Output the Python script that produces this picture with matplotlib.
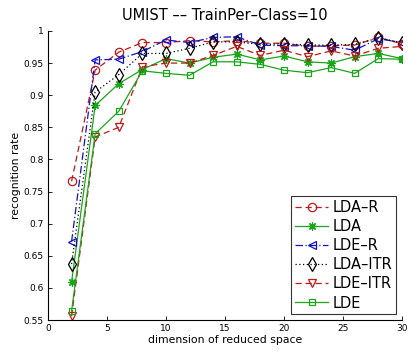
import matplotlib
matplotlib.use("Agg")
import matplotlib.pyplot as plt

dims = [2, 4, 6, 8, 10, 12, 14, 16, 18, 20, 22, 24, 26, 28, 30]
lda_r   = [0.766, 0.939, 0.967, 0.982, 0.982, 0.985, 0.983, 0.985, 0.981, 0.981, 0.976, 0.977, 0.978, 0.990, 0.980]
lda     = [0.609, 0.884, 0.918, 0.940, 0.957, 0.950, 0.959, 0.964, 0.955, 0.961, 0.952, 0.950, 0.960, 0.965, 0.957]
lde_r   = [0.672, 0.955, 0.956, 0.968, 0.986, 0.982, 0.990, 0.991, 0.978, 0.977, 0.977, 0.976, 0.970, 0.988, 0.982]
lda_itr = [0.637, 0.905, 0.932, 0.965, 0.965, 0.973, 0.983, 0.983, 0.979, 0.980, 0.978, 0.978, 0.979, 0.989, 0.982]
lde_itr = [0.556, 0.835, 0.850, 0.944, 0.950, 0.950, 0.962, 0.976, 0.962, 0.970, 0.960, 0.969, 0.961, 0.973, 0.976]
lde     = [0.564, 0.840, 0.875, 0.938, 0.934, 0.931, 0.952, 0.952, 0.948, 0.939, 0.935, 0.943, 0.934, 0.957, 0.956]

red = "#c01818"
green = "#1aa51a"
blue = "#1010c8"

fig = plt.figure(figsize=(4.08, 3.52), dpi=100)
ax = fig.add_axes([0.1176, 0.0909, 0.8674, 0.8211])

asterisk = (8, 2, 0)
ax.plot(dims, lda_r, color=red, ls=(0, (5, 3)), lw=0.9, marker='o', ms=6, mfc='none', mec=red, mew=0.9, label='LDA\u2013R')
ax.plot(dims, lda, color=green, ls='-', lw=0.9, marker=asterisk, ms=6, mec=green, mew=0.9, label='LDA')
ax.plot(dims, lde_r, color=blue, ls=(0, (6, 2, 1, 2)), lw=0.9, marker='<', ms=6, mfc='none', mec=blue, mew=0.9, label='LDE\u2013R')
ax.plot(dims, lda_itr, color='black', ls=(0, (1, 2)), lw=0.9, marker='d', ms=7.5, mfc='none', mec='black', mew=0.9, label='LDA\u2013ITR')
ax.plot(dims, lde_itr, color=red, ls=(0, (5, 3)), lw=0.9, marker='v', ms=6, mfc='none', mec=red, mew=0.9, label='LDE\u2013ITR')
ax.plot(dims, lde, color=green, ls='-', lw=0.9, marker='s', ms=5, mfc='none', mec=green, mew=0.9, label='LDE')

ax.set_xlim(0, 30)
ax.set_ylim(0.55, 1.0)
ax.set_xticks([0, 5, 10, 15, 20, 25, 30])
yt = [0.55, 0.6, 0.65, 0.7, 0.75, 0.8, 0.85, 0.9, 0.95, 1.0]
ax.set_yticks(yt)
ax.set_yticklabels(['0.55', '0.6', '0.65', '0.7', '0.75', '0.8', '0.85', '0.9', '0.95', '1'])
ax.tick_params(labelsize=6.5, direction='in', length=3, width=0.6, pad=3)
ax.spines['top'].set_visible(False)
ax.spines['right'].set_visible(False)
for s in ('left', 'bottom'):
    ax.spines[s].set_linewidth(0.8)

ax.set_xlabel('dimension of reduced space', fontsize=7.8, labelpad=1)
ax.set_ylabel('recognition rate', fontsize=7.8, labelpad=2)
ax.set_title('UMIST \u2013\u2013 TrainPer\u2013Class=10', fontsize=10.5, pad=8)

leg = ax.legend(loc='lower right', fontsize=10.5, frameon=True, fancybox=False, edgecolor='black',
                handlelength=2.3, handletextpad=0.3, borderpad=0.25, labelspacing=0.28,
                borderaxespad=0.4)
leg.get_frame().set_linewidth(0.8)

fig.savefig('out.png', dpi=100)
